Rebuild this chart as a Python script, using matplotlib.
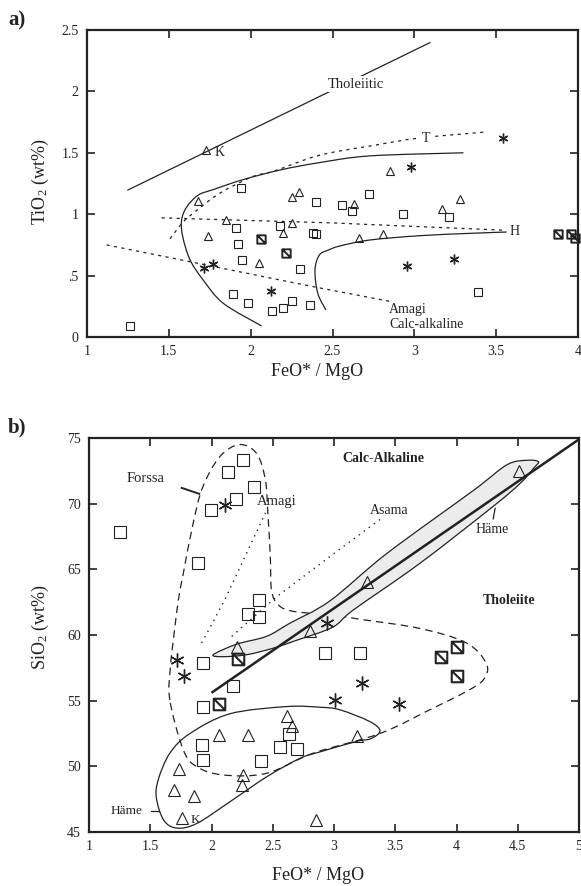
import matplotlib
matplotlib.use("Agg")
import matplotlib.pyplot as plt
import numpy as np
from matplotlib.path import Path
from matplotlib.patches import PathPatch

plt.rcParams["font.family"] = ["Liberation Serif", "DejaVu Serif"]
plt.rcParams["mathtext.fontset"] = "custom"
plt.rcParams["mathtext.rm"] = "Liberation Serif"
plt.rcParams["mathtext.it"] = "Liberation Serif:italic"

INK = "#222222"

# ---------------- panel a data (FeO*/MgO vs TiO2) ----------------
sq_a_x = [1.26, 1.94, 2.40, 2.56, 2.62, 2.72, 2.93, 3.21, 1.91, 1.92, 2.18, 2.38, 2.40,
          1.95, 2.30, 1.89, 1.985, 2.13, 2.20, 2.25, 2.36, 3.39]
sq_a_y = [0.09, 1.21, 1.10, 1.075, 1.03, 1.165, 1.00, 0.98, 0.89, 0.76, 0.90, 0.85, 0.84,
          0.63, 0.55, 0.35, 0.28, 0.21, 0.24, 0.29, 0.26, 0.37]
tri_a_x = [1.73, 1.68, 2.25, 2.295, 1.85, 1.74, 2.25, 2.20, 2.05, 2.85, 2.63, 3.28, 3.17, 2.66, 2.81]
tri_a_y = [1.52, 1.11, 1.14, 1.18, 0.95, 0.82, 0.93, 0.85, 0.60, 1.35, 1.08, 1.12, 1.04, 0.81, 0.84]
ast_a_x = [1.717, 1.77, 2.124, 2.977, 3.54, 2.957, 3.244]
ast_a_y = [0.564, 0.592, 0.377, 1.387, 1.623, 0.58, 0.633]
hat_a_x = [2.061, 2.216, 3.879, 3.96, 3.98]
hat_a_y = [0.795, 0.68, 0.836, 0.835, 0.81]

thol_line_x = [1.25, 3.095]
thol_line_y = [1.197, 2.397]
T_curve_x = [1.507, 1.59, 1.67, 1.81, 2.01, 2.14, 2.42, 2.75, 3.03, 3.44]
T_curve_y = [0.80, 0.94, 1.03, 1.17, 1.305, 1.35, 1.48, 1.56, 1.62, 1.67]
C_curve_x = [3.30, 2.73, 2.42, 2.18, 1.95, 1.77, 1.68, 1.61, 1.578, 1.585, 1.63, 1.71, 1.833, 2.067]
C_curve_y = [1.50, 1.475, 1.42, 1.36, 1.28, 1.20, 1.156, 1.06, 0.953, 0.817, 0.627, 0.464, 0.274, 0.09]
H_curve_x = [2.46, 2.41, 2.393, 2.42, 2.475, 2.545, 2.729, 3.034, 3.34, 3.564]
H_curve_y = [0.22, 0.356, 0.546, 0.668, 0.708, 0.741, 0.79, 0.825, 0.844, 0.855]
H_dot_x = [1.456, 2.48, 3.54]
H_dot_y = [0.97, 0.93, 0.87]
amagi_dot_x = [1.12, 1.63, 2.18, 2.42, 2.86]
amagi_dot_y = [0.75, 0.613, 0.464, 0.40, 0.288]

# ---------------- panel b data (FeO*/MgO vs SiO2) ----------------
sq_b_x = [2.26, 2.137, 2.35, 2.198, 1.993, 1.253, 1.893, 2.39, 2.296, 2.39, 1.933, 2.178,
          1.933, 2.633, 1.92, 2.56, 2.70, 1.933, 2.40, 2.93, 3.21]
sq_b_y = [73.3, 72.4, 71.3, 70.36, 69.5, 67.87, 65.5, 62.67, 61.57, 61.4, 57.9, 56.14,
          54.55, 52.46, 51.6, 51.45, 51.3, 50.5, 50.4, 58.6, 58.65]
tri_b_x = [2.205, 2.613, 2.66, 2.06, 2.30, 1.735, 2.26, 2.25, 1.696, 1.86, 1.757, 2.85,
           2.80, 3.185, 4.51, 3.267]
tri_b_y = [59.1, 53.83, 53.07, 52.4, 52.4, 49.78, 49.34, 48.6, 48.2, 47.76, 46.04, 45.9,
           60.3, 52.3, 72.5, 64.0]
ast_b_x = [2.11, 1.72, 1.778, 2.94, 3.23, 3.008, 3.53]
ast_b_y = [69.9, 58.1, 56.9, 60.9, 56.33, 55.05, 54.75]
hat_b_x = [2.22, 2.064, 3.87, 4.0, 4.0]
hat_b_y = [58.2, 54.75, 58.35, 59.06, 56.9]

divide_x = [2.0, 5.0]
divide_y = [55.6, 74.9]
band_x = [2.015, 2.205, 2.45, 2.64, 2.967, 3.43, 4.137, 4.41, 4.57, 4.668, 4.63, 4.52,
          4.30, 3.70, 3.157, 2.99, 2.695, 2.505, 2.287, 2.096]
band_y = [58.5, 59.3, 59.9, 60.9, 62.6, 66.2, 71.0, 72.95, 73.3, 73.2, 72.7, 71.55,
          69.8, 65.45, 61.9, 60.6, 59.6, 59.0, 58.5, 58.35]
forssa_x = [1.66, 1.665, 1.70, 1.73, 1.77, 1.85, 1.93, 2.07, 2.23, 2.37, 2.44, 2.46, 2.48,
            2.49, 2.545, 2.668, 3.0, 3.21, 3.70, 4.08, 4.245, 4.22, 4.08, 3.78, 3.375,
            2.83, 2.45, 2.096, 1.88, 1.77]
forssa_y = [55.05, 57.6, 60.5, 62.7, 64.7, 68.5, 71.3, 73.6, 74.5, 73.8, 71.8, 69.3, 66.0,
            63.4, 62.3, 61.8, 61.5, 61.2, 60.5, 59.4, 57.8, 56.6, 55.7, 54.3, 52.5,
            51.0, 49.47, 49.34, 49.97, 51.25]
hame_low_x = [1.55, 1.566, 1.66, 1.824, 2.15, 2.613, 2.886, 3.05, 3.294, 3.375, 3.30,
              3.185, 2.886, 2.72, 2.45, 2.15, 1.88, 1.716, 1.61]
hame_low_y = [47.6, 49.0, 51.0, 52.5, 54.0, 54.55, 54.5, 54.3, 53.4, 52.7, 52.1,
              51.9, 51.1, 50.6, 49.2, 47.3, 45.65, 45.3, 45.9]
amagi_b_x = [1.92, 2.11, 2.44]
amagi_b_y = [59.4, 62.7, 69.3]
asama_x = [2.165, 2.53, 2.97, 3.39]
asama_y = [59.9, 62.9, 66.0, 68.9]


def smooth(xs, ys, closed=False):
    p = np.column_stack([xs, ys]).astype(float)
    n = len(p)
    verts, codes = [p[0]], [Path.MOVETO]
    nseg = n if closed else n - 1
    for i in range(nseg):
        p1 = p[i]
        p2 = p[(i + 1) % n]
        if closed:
            p0 = p[(i - 1) % n]
            p3 = p[(i + 2) % n]
        else:
            p0 = p[i - 1] if i > 0 else p1
            p3 = p[i + 2] if i + 2 < n else p2
        verts += [p1 + (p2 - p0) / 6, p2 - (p3 - p1) / 6, p2]
        codes += [Path.CURVE4] * 3
    return Path(verts, codes)


hatch_marker = Path([(-1, -1), (1, -1), (1, 1), (-1, 1), (-1, -1), (-1, 1), (1, -1)],
                    [Path.MOVETO, Path.LINETO, Path.LINETO, Path.LINETO, Path.CLOSEPOLY,
                     Path.MOVETO, Path.LINETO])


def style_axes(ax):
    for s in ax.spines.values():
        s.set_linewidth(1.6)
        s.set_color(INK)
    ax.tick_params(direction="in", length=6, width=1.2, top=True, right=True,
                   labelsize=10, colors=INK, pad=6)


W, H = 581, 886
fig = plt.figure(figsize=(W / 100, H / 100), dpi=100)

# ================= panel a =================
ax = fig.add_axes([87 / W, 1 - 337 / H, 491 / W, 307 / H])
ax.set_xlim(1, 4)
ax.set_ylim(0, 2.5)
ax.set_xticks([1, 1.5, 2, 2.5, 3, 3.5, 4])
ax.set_xticklabels(["1", "1.5", "2", "2.5", "3", "3.5", "4"])
ax.set_yticks([0, 0.5, 1, 1.5, 2, 2.5])
ax.set_yticklabels(["0", ".5", "1", "1.5", "2", "2.5"])
style_axes(ax)

lw = 0.9
ax.plot(thol_line_x, thol_line_y, color=INK, lw=lw)
ax.add_patch(PathPatch(smooth(T_curve_x, T_curve_y), fill=False, ec=INK, lw=lw,
                       ls=(0, (2.5, 3.5))))
ax.add_patch(PathPatch(smooth(C_curve_x, C_curve_y), fill=False, ec=INK, lw=lw))
ax.add_patch(PathPatch(smooth(H_curve_x, H_curve_y), fill=False, ec=INK, lw=lw))
ax.plot(H_dot_x, H_dot_y, color=INK, lw=lw, ls=(0, (2.5, 3.5)))
ax.plot(amagi_dot_x, amagi_dot_y, color=INK, lw=lw, ls=(0, (2.5, 3.5)))

mk = dict(ls="none", mfc="none", mec=INK, zorder=4)
ax.plot(sq_a_x, sq_a_y, marker="s", ms=5.6, mew=0.8, **mk)
ax.plot(tri_a_x, tri_a_y, marker="^", ms=6.0, mew=0.8, **mk)
ax.plot(ast_a_x, ast_a_y, marker=(6, 2, 0), ms=7.0, mew=1.0, **mk)
ax.plot(hat_a_x, hat_a_y, marker=hatch_marker, ms=6.0, mew=1.4, clip_on=False, **mk)

wb = dict(facecolor="white", edgecolor="none", pad=1.0)
ax.text(2.64, 2.06, "Tholeiitic", fontsize=10.5, color=INK, ha="center", va="center", bbox=wb)
ax.text(3.07, 1.62, "T", fontsize=10, color=INK, ha="center", va="center", bbox=wb)
ax.text(3.61, 0.86, "H", fontsize=10, color=INK, ha="center", va="center", bbox=wb)
ax.text(1.78, 1.50, "K", fontsize=10, color=INK, ha="left", va="center")
ax.text(2.845, 0.22, "Amagi", fontsize=10, color=INK, ha="left", va="center")
ax.text(2.845, 0.10, "Calc-alkaline", fontsize=10, color=INK, ha="left", va="center")

ax.set_xlabel("FeO* / MgO", fontsize=13, color=INK)
ax.xaxis.set_label_coords(0.468, -0.085)
ax.set_ylabel(r"TiO$_2$ (wt%)", fontsize=13, color=INK)
ax.yaxis.set_label_coords(-0.074, 0.505)
fig.text(8 / W, 1 - 20 / H, "a)", fontsize=15, fontweight="bold", color=INK,
         ha="left", va="center")

# ================= panel b =================
bx = fig.add_axes([89 / W, 1 - 832 / H, 490 / W, 394 / H])
bx.set_xlim(1, 5)
bx.set_ylim(45, 75)
bx.set_xticks([1, 1.5, 2, 2.5, 3, 3.5, 4, 4.5, 5])
bx.set_xticklabels(["1", "1.5", "2", "2.5", "3", "3.5", "4", "4.5", "5"])
bx.set_yticks([45, 50, 55, 60, 65, 70, 75])
style_axes(bx)

bx.add_patch(PathPatch(smooth(forssa_x, forssa_y, closed=True), fill=False, ec=INK,
                       lw=lw, ls=(0, (6, 4)), zorder=1))
bx.plot(amagi_b_x, amagi_b_y, color=INK, lw=1.0, ls=(0, (1, 3.5)), zorder=1)
bx.plot(asama_x, asama_y, color=INK, lw=1.0, ls=(0, (1, 3.5)), zorder=1)
bx.add_patch(PathPatch(smooth(band_x, band_y, closed=True), fc="#ececec", ec=INK,
                       lw=lw, zorder=2))
bx.add_patch(PathPatch(smooth(hame_low_x, hame_low_y, closed=True), fill=False, ec=INK,
                       lw=lw, zorder=2))
bx.plot(divide_x, divide_y, color=INK, lw=1.8, zorder=3, solid_capstyle="butt")

bx.plot(sq_b_x, sq_b_y, marker="s", ms=8.3, mew=0.8, **mk)
bx.plot(tri_b_x, tri_b_y, marker="^", ms=8.8, mew=0.8, **mk)
bx.plot(ast_b_x, ast_b_y, marker=(6, 2, 0), ms=10, mew=1.0, **mk)
bx.plot(hat_b_x, hat_b_y, marker=hatch_marker, ms=8.3, mew=1.5, **mk)

bx.text(3.40, 73.45, "Calc-Alkaline", fontsize=10, fontweight="bold", color=INK,
        ha="center", va="center")
bx.text(4.43, 62.6, "Tholeiite", fontsize=10, fontweight="bold", color=INK,
        ha="center", va="center")
bx.text(3.45, 69.5, "Asama", fontsize=10, color=INK, ha="center", va="center")
bx.text(4.295, 68.0, "Häme", fontsize=10, color=INK, ha="center", va="center")
bx.plot([4.30, 4.315], [68.85, 69.65], color=INK, lw=0.9)
bx.text(1.463, 71.9, "Forssa", fontsize=10.5, color=INK, ha="center", va="center")
bx.plot([1.757, 1.90], [71.2, 70.75], color=INK, lw=1.4)
bx.text(2.53, 70.15, "Amagi", fontsize=10.5, color=INK, ha="center", va="center")
bx.text(1.31, 46.6, "Häme", fontsize=9.5, color=INK, ha="center", va="center")
bx.plot([1.51, 1.575], [46.6, 46.6], color=INK, lw=0.9)
bx.text(1.865, 45.95, "K", fontsize=9.5, color=INK, ha="center", va="center")

bx.set_xlabel("FeO* / MgO", fontsize=13, color=INK)
bx.xaxis.set_label_coords(0.467, -0.088)
bx.set_ylabel(r"SiO$_2$ (wt%)", fontsize=13, color=INK)
bx.yaxis.set_label_coords(-0.078, 0.52)
fig.text(8 / W, 1 - 427 / H, "b)", fontsize=15, fontweight="bold", color=INK,
         ha="left", va="center")

fig.savefig("out.png", dpi=100, facecolor="white")
print("saved out.png")
